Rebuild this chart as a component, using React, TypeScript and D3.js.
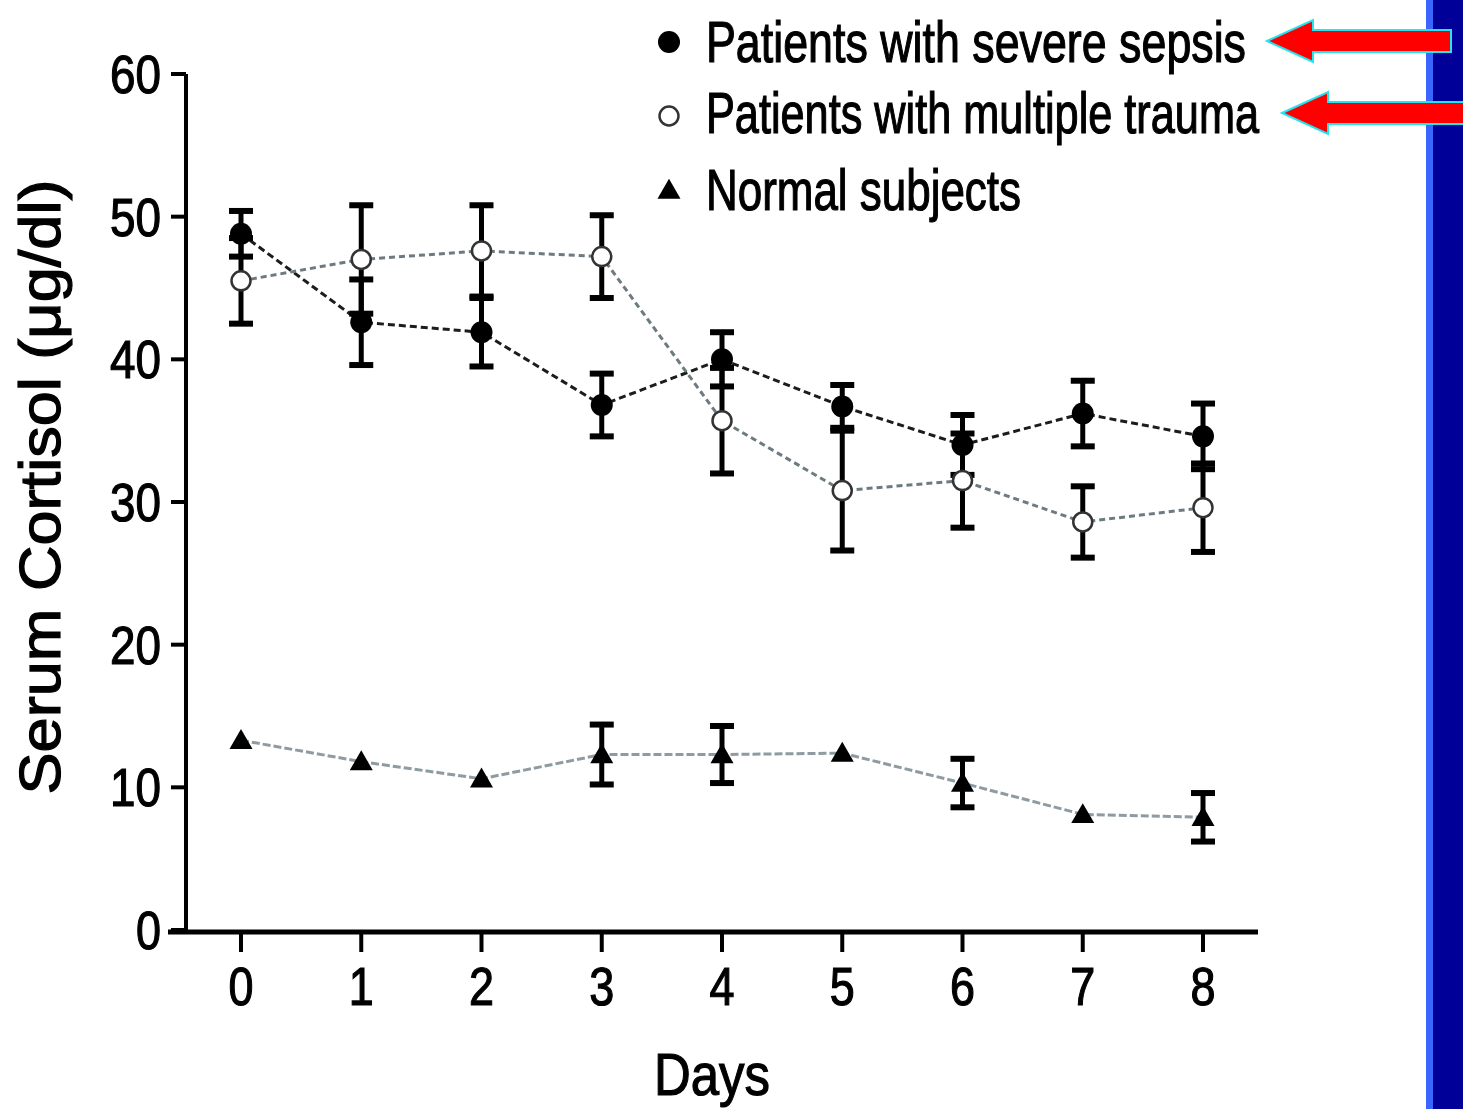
import React from 'react'
import * as d3 from 'd3'

// Serum cortisol by day, mean and error (µg/dl)
const days = [0, 1, 2, 3, 4, 5, 6, 7, 8]
const sepsisMean = [48.8, 42.6, 41.9, 36.8, 40.0, 36.7, 34.0, 36.2, 34.6]
const sepsisErr = [1.6, 3.0, 2.4, 2.2, 1.9, 1.5, 2.1, 2.3, 2.3]
const traumaMean = [45.5, 47.0, 47.6, 47.2, 35.7, 30.8, 31.5, 28.6, 29.6]
const traumaErr = [3.0, 3.8, 3.2, 2.9, 3.7, 4.2, 3.3, 2.5, 3.1]
const normalMean = [13.3, 11.8, 10.6, 12.3, 12.3, 12.4, 10.3, 8.1, 7.9]
// 0 = error bar too small to show behind the marker
const normalErr = [0, 0, 0, 2.1, 2.0, 0, 1.7, 0, 1.7]

const yTicks = [0, 10, 20, 30, 40, 50, 60]
const legendLabels = [
  'Patients with severe sepsis',
  'Patients with multiple trauma',
  'Normal subjects'
]
const legendWidths = [540, 553, 315]

const FONT = '"Liberation Sans", Arial, sans-serif'

const series = [
  { mean: sepsisMean, err: sepsisErr, kind: 'filled', stroke: '#1c1c1c', dash: '7 4' },
  { mean: traumaMean, err: traumaErr, kind: 'open', stroke: '#6d7b80', dash: '6 4' },
  { mean: normalMean, err: normalErr, kind: 'triangle', stroke: '#8d9ca2', dash: '8 3' }
]

function Marker({ kind, x, y }: { kind: string; x: number; y: number }) {
  if (kind === 'filled') return <circle cx={x} cy={y} r={11} fill="#000" />
  if (kind === 'open')
    return <circle cx={x} cy={y} r={9.5} fill="#fff" stroke="#333" strokeWidth={2.5} />
  const tri = d3.symbol().type(d3.symbolTriangle).size(230)()
  return <path d={tri || ''} transform={`translate(${x},${y + 2})`} fill="#000" />
}

export default function App() {
  const x = d3.scaleLinear().domain([0, 8]).range([241, 1203])
  const y = d3.scaleLinear().domain([0, 60]).range([930, 74])

  const line = d3
    .line<number>()
    .x((_, i) => x(days[i]))
    .y((d) => y(d))

  // heavier text like the scanned original
  const ink = { fill: '#000', stroke: '#000', strokeWidth: 1.2 }

  return (
    <svg
      width={1463}
      height={1109}
      style={{ position: 'absolute', left: 0, top: 0, background: '#fff' }}
      fontFamily={FONT}
    >
      <rect width={1463} height={1109} fill="#fff" />

      {/* y axis */}
      <line x1={186} x2={186} y1={y(60)} y2={y(0) + 2} stroke="#000" strokeWidth={4} />
      {yTicks.map((t) => (
        <g key={t}>
          <line x1={171} x2={186} y1={y(t)} y2={y(t)} stroke="#000" strokeWidth={4} />
          <text
            {...ink}
            x={161}
            y={y(t) + 19}
            fontSize={54}
            textAnchor="end"
            textLength={t === 0 ? 25 : 51}
            lengthAdjust="spacingAndGlyphs"
          >
            {t}
          </text>
        </g>
      ))}
      <text
        {...ink}
        transform="translate(60,487) rotate(-90)"
        fontSize={58}
        textAnchor="middle"
        textLength={615}
        lengthAdjust="spacingAndGlyphs"
      >
        Serum Cortisol (μg/dl)
      </text>

      {/* x axis */}
      <line x1={168} x2={1258} y1={932} y2={932} stroke="#000" strokeWidth={5} />
      {days.map((d) => (
        <g key={d}>
          <line x1={x(d)} x2={x(d)} y1={932} y2={952} stroke="#000" strokeWidth={4} />
          <text
            {...ink}
            x={x(d)}
            y={1005}
            fontSize={54}
            textAnchor="middle"
            textLength={25}
            lengthAdjust="spacingAndGlyphs"
          >
            {d}
          </text>
        </g>
      ))}
      <text
        {...ink}
        x={712}
        y={1095}
        fontSize={60}
        textAnchor="middle"
        textLength={116}
        lengthAdjust="spacingAndGlyphs"
      >
        Days
      </text>

      {/* connecting lines */}
      {series.map((s, i) => (
        <path
          key={'l' + i}
          d={line(s.mean) || ''}
          fill="none"
          stroke={s.stroke}
          strokeWidth={3}
          strokeDasharray={s.dash}
        />
      ))}

      {/* error bars */}
      {series.map((s, i) =>
        s.mean.map((m, j) => {
          if (!s.err[j]) return null
          const cx = x(days[j])
          const top = y(m + s.err[j])
          const bot = y(m - s.err[j])
          return (
            <g key={`e${i}-${j}`} stroke="#000">
              <line x1={cx} x2={cx} y1={top} y2={bot} strokeWidth={5} />
              <line x1={cx - 12} x2={cx + 12} y1={top} y2={top} strokeWidth={6} />
              <line x1={cx - 12} x2={cx + 12} y1={bot} y2={bot} strokeWidth={6} />
            </g>
          )
        })
      )}

      {/* markers */}
      {series.map((s, i) =>
        s.mean.map((m, j) => <Marker key={`m${i}-${j}`} kind={s.kind} x={x(days[j])} y={y(m)} />)
      )}

      {/* legend */}
      {legendLabels.map((lab, i) => {
        const base = [62, 133, 210][i]
        const my = [42, 116, 190][i]
        return (
          <g key={lab}>
            <Marker kind={series[i].kind} x={669} y={my} />
            <text
              {...ink}
              x={706}
              y={base}
              fontSize={58}
              textLength={legendWidths[i]}
              lengthAdjust="spacingAndGlyphs"
            >
              {lab}
            </text>
          </g>
        )
      })}

      {/* slide edge */}
      <rect x={1426} y={0} width={7} height={1109} fill="#3a66ff" />
      <rect x={1433} y={0} width={30} height={1109} fill="#000099" />

      {/* arrows */}
      <polygon
        points="1267,41 1313,20 1313,30 1451,30 1451,52 1313,52 1313,62"
        fill="#ff0000"
        stroke="#22e5f0"
        strokeWidth={2}
      />
      <polygon
        points="1282,113 1328,92 1328,102 1466,102 1466,124 1328,124 1328,134"
        fill="#ff0000"
        stroke="#22e5f0"
        strokeWidth={2}
      />
    </svg>
  )
}
